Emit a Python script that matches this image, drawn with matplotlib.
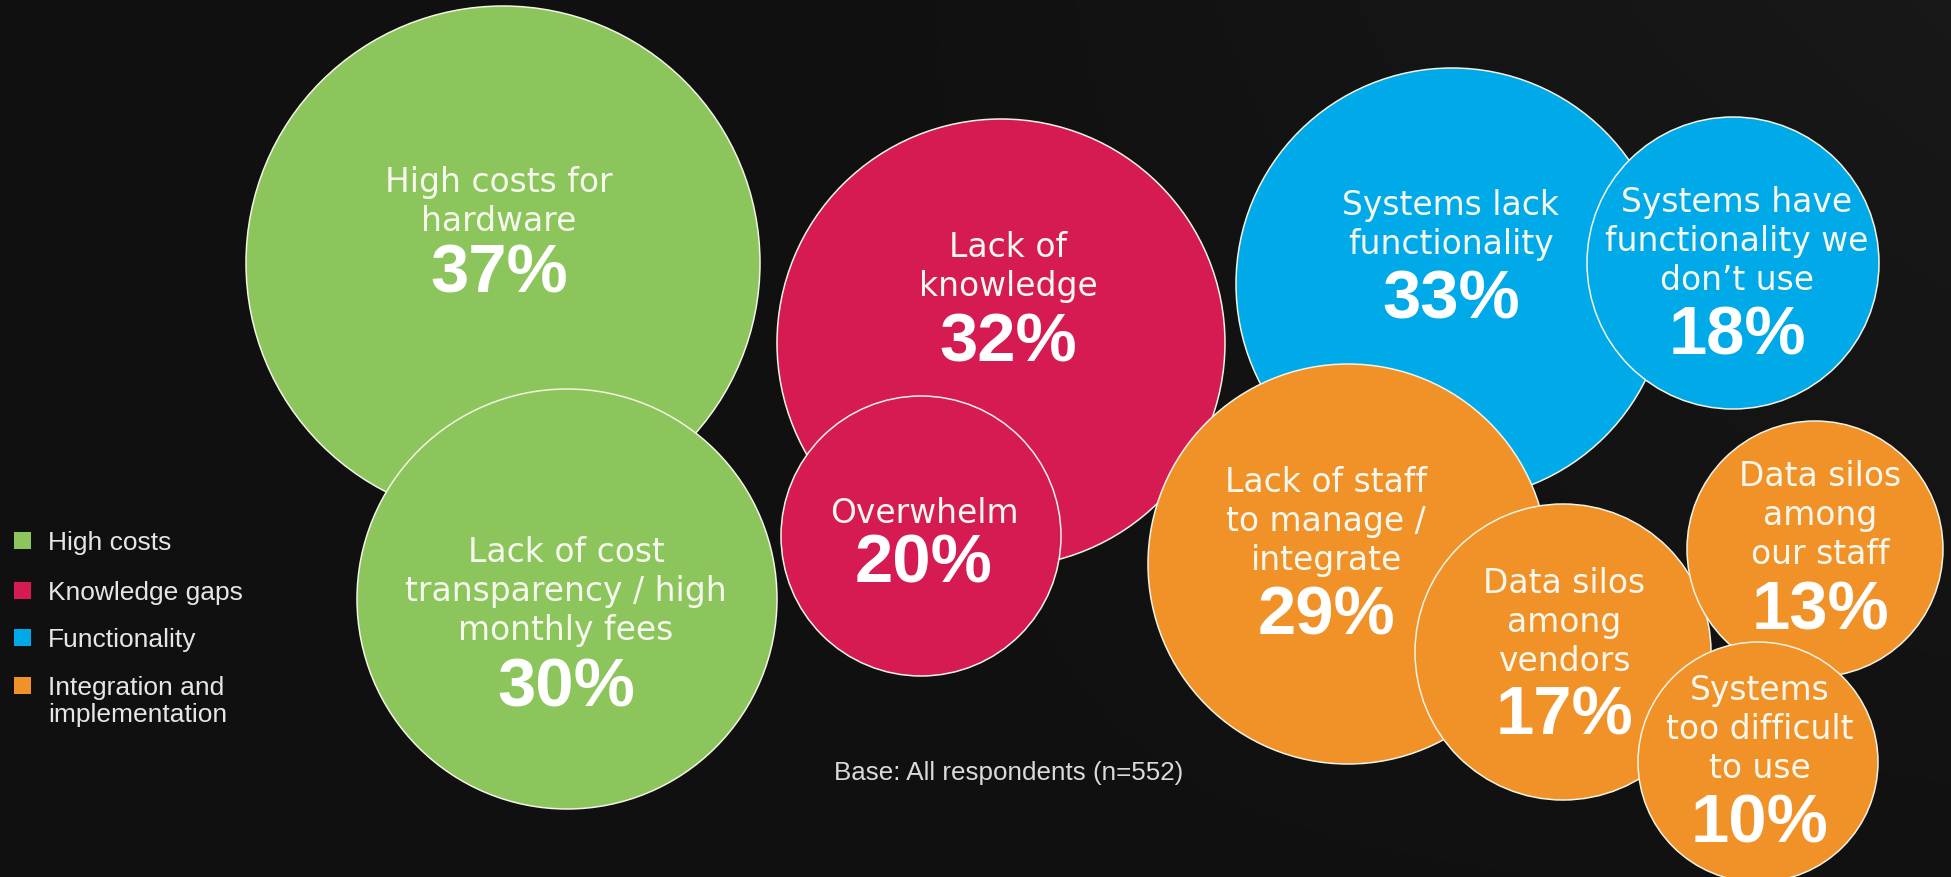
import matplotlib
matplotlib.use("Agg")
import numpy as np
import matplotlib.pyplot as plt
from matplotlib.patches import Circle, Rectangle

# ---------------- data ----------------
groups = ["High costs", "Knowledge gaps", "Functionality", "Integration and\nimplementation"]
group_colors = ["#8CC55B", "#D51B52", "#00AAE9", "#F09228"]

labels = [
    "High costs for\nhardware",
    "Lack of cost\ntransparency / high\nmonthly fees",
    "Lack of\nknowledge",
    "Overwhelm",
    "Systems lack\nfunctionality",
    "Systems have\nfunctionality we\ndon\u2019t use",
    "Lack of staff\nto manage /\nintegrate",
    "Data silos\namong\nour staff",
    "Data silos\namong\nvendors",
    "Systems\ntoo difficult\nto use",
]
values = [37, 30, 32, 20, 33, 18, 29, 13, 17, 10]
group_idx = [0, 0, 1, 1, 2, 2, 3, 3, 3, 3]
base_note = "Base: All respondents (n=552)"

# ---------------- layout (pixel space, y downwards) ----------------
W, H = 1951, 878
cx = [503, 567, 1001, 921, 1452, 1733, 1348, 1815, 1563, 1758]
cy = [264, 600, 344, 537, 285, 264, 565, 550, 653, 763]
rad = [257, 210, 224, 140, 216, 146, 200, 128, 148, 120]
text_x = [499, 566, 1008, 924, 1451, 1737, 1326, 1820, 1564, 1760]
line1_y = [180, 550, 245, 511, 203, 200, 480, 474, 581, 688]
pct_y = [268, 682, 337, 558, 294, 330, 610, 605, 710, 818]
draw_order = [0, 1, 2, 3, 4, 5, 6, 8, 7, 9]
LINE_PITCH = 39

BG = "#141414"
TXT = "#F6F8EE"
LABEL_FONT = "DejaVu Sans"
LABEL_SIZE = 23.7
PCT_FONT = "Liberation Sans"
PCT_SIZE = 49.5

fig = plt.figure(figsize=(W / 100, H / 100), dpi=100, facecolor=BG)
ax = fig.add_axes([0, 0, 1, 1])
ax.set_facecolor(BG)
ax.set_xlim(0, W)
ax.set_ylim(H, 0)
ax.axis("off")

# subtle charcoal backdrop, a little lighter towards the upper right
gx, gy = np.meshgrid(np.linspace(0, 1, 200), np.linspace(0, 1, 90))
shade = 0.065 + 0.05 * np.clip(gx - 0.45, 0, None) * np.clip(1.1 - gy, 0, None)
bg_img = np.dstack([shade, shade, shade])
ax.imshow(bg_img, extent=(0, W, H, 0), aspect="auto", zorder=0, interpolation="bicubic")

label_cap_half = LABEL_SIZE * 100 / 72 * 0.729 / 2
pct_cap_half = PCT_SIZE * 100 / 72 * 0.716 / 2

for z, i in enumerate(draw_order):
    col = group_colors[group_idx[i]]
    ax.add_patch(Circle((cx[i], cy[i]), rad[i], facecolor=col,
                        edgecolor="#F3F3E6", linewidth=1.1, zorder=2 + z * 2))
    for k, line in enumerate(labels[i].split("\n")):
        ax.text(text_x[i], line1_y[i] + k * LINE_PITCH + label_cap_half, line,
                ha="center", va="baseline", color=TXT, fontsize=LABEL_SIZE,
                family=LABEL_FONT, zorder=3 + z * 2)
    ax.text(text_x[i], pct_y[i] + pct_cap_half, f"{values[i]}%",
            ha="center", va="baseline", color="white", fontsize=PCT_SIZE,
            family=PCT_FONT, fontweight="bold", zorder=3 + z * 2)

# legend
leg_base = [550, 600, 647, 695]
for g, (name, col) in enumerate(zip(groups, group_colors)):
    b = leg_base[g]
    ax.add_patch(Rectangle((14, b - 17), 17, 17, facecolor=col, edgecolor="none", zorder=40))
    for k, line in enumerate(name.split("\n")):
        ax.text(48, b + k * 27, line, ha="left", va="baseline", color="#E6E6E6",
                fontsize=19, family="Liberation Sans", zorder=40)

ax.text(834, 780, base_note, ha="left", va="baseline", color="#DADADA",
        fontsize=18.7, family="Liberation Sans", zorder=40)

fig.savefig("out.png", dpi=100, facecolor=BG)
